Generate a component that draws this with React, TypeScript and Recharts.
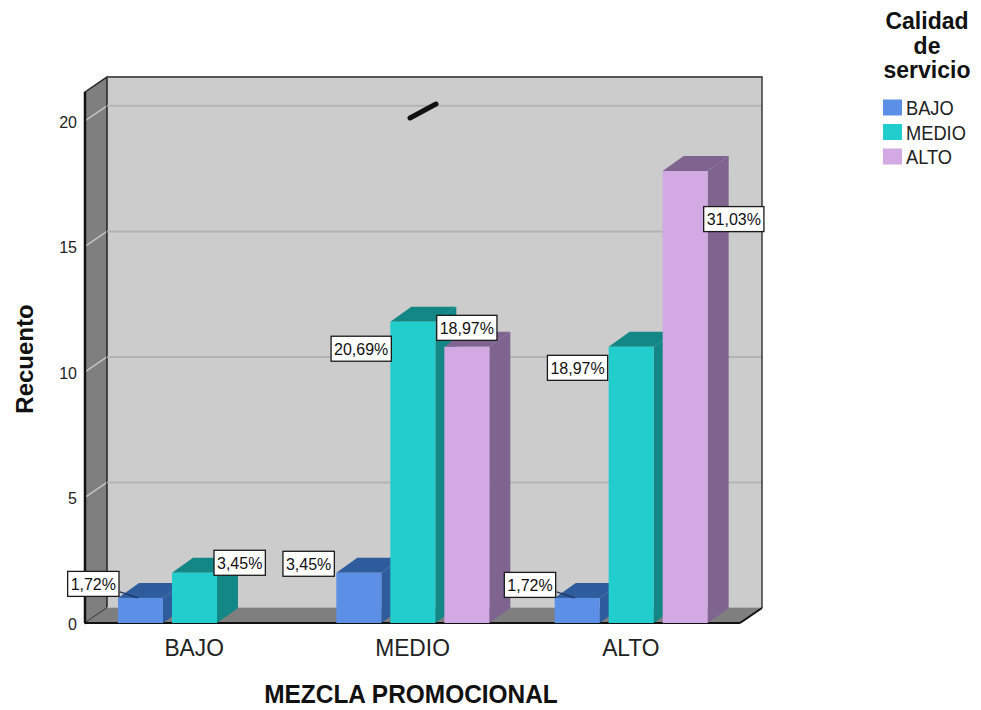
import React from 'react';
import { BarChart, Bar, XAxis, YAxis, CartesianGrid, LabelList } from 'recharts';

// Counts of "Calidad de servicio" within each level of "Mezcla promocional"
const categories = ['BAJO', 'MEDIO', 'ALTO'];
const bajoCounts = [1, 2, 1];
const medioCounts = [2, 12, 11];
const altoCounts = [0, 11, 18];
const legendLabels = ['BAJO', 'MEDIO', 'ALTO'];
const yTicks = [0, 5, 10, 15, 20];
const gridTicks = [5, 10, 15, 20];

const total = [...bajoCounts, ...medioCounts, ...altoCounts].reduce((a, b) => a + b, 0);

const data = categories.map((category, i) => ({
  category,
  bajo: bajoCounts[i],
  medio: medioCounts[i],
  alto: altoCounts[i],
}));

// Layout
const W = 981;
const H = 710;
const PLOT_LEFT = 85;
const PLOT_RIGHT = 740;
const PLOT_TOP = 92;
const PLOT_BOTTOM = 623;
const WALL_DX = 22;
const WALL_DY = 15;
const BAR_DX = 21;
const BAR_DY = 15;
const Y_MAX = 21.15;
const Y_AXIS_W = 60;
const X_AXIS_H = 40;
const BAR_SIZE = 45;
const BAR_GAP = 9;
const BAND_W = (PLOT_RIGHT - PLOT_LEFT) / categories.length;

const FONT = '"Liberation Sans", Arial, Helvetica, sans-serif';

const SERIES = [
  { key: 'bajo', front: '#5B90E6', dark: '#2E5C9C' },
  { key: 'medio', front: '#22CDCD', dark: '#138786' },
  { key: 'alto', front: '#D2A9E3', dark: '#7F6490' },
];

type Placement = { side: 'left' | 'right' | 'center'; gap: number; dy: number; leader?: boolean };

// Where each percentage box sits relative to its bar (indexed by category)
const LABEL_PLACEMENT: Record<string, (Placement | null)[]> = {
  bajo: [
    { side: 'left', gap: -1, dy: -14, leader: true },
    { side: 'left', gap: 2, dy: -9 },
    { side: 'left', gap: -1, dy: -13, leader: true },
  ],
  medio: [
    { side: 'right', gap: -3, dy: -10 },
    { side: 'left', gap: -1, dy: 27 },
    { side: 'left', gap: 1, dy: 21 },
  ],
  alto: [
    null,
    { side: 'center', gap: 0, dy: -19 },
    { side: 'right', gap: -4, dy: 48 },
  ],
};

const CHAR_W: Record<string, number> = {
  '0': 0.556, '1': 0.556, '2': 0.556, '3': 0.556, '4': 0.556,
  '5': 0.556, '6': 0.556, '7': 0.556, '8': 0.556, '9': 0.556,
  ',': 0.278, '%': 0.889,
};
const textWidth = (s: string, size: number) =>
  s.split('').reduce((acc, ch) => acc + (CHAR_W[ch] ?? 0.556), 0) * size;

const pctText = (v: number) => ((v / total) * 100).toFixed(2).replace('.', ',') + '%';

const yFront = (v: number) => PLOT_BOTTOM - (v / Y_MAX) * (PLOT_BOTTOM - PLOT_TOP);

const SText = (props: any) => {
  const { x, y, sx = 1, children, ...rest } = props;
  return (
    <text transform={`translate(${x},${y}) scale(${sx},1)`} fontFamily={FONT} {...rest}>
      {children}
    </text>
  );
};

const make3DShape = (front: string, dark: string) => (props: any) => {
  const { x, y, width, height } = props;
  if (!height || height <= 0) return <g />;
  const r = x + width;
  const b = y + height;
  return (
    <g>
      <polygon
        points={`${r},${y} ${r + BAR_DX},${y - BAR_DY} ${r + BAR_DX},${b - BAR_DY} ${r},${b}`}
        fill={dark}
      />
      <polygon
        points={`${x},${y} ${x + BAR_DX},${y - BAR_DY} ${r + BAR_DX},${y - BAR_DY} ${r},${y}`}
        fill={dark}
      />
      <rect x={x} y={y} width={width} height={height} fill={front} />
    </g>
  );
};

const makeLabel = (seriesKey: string) => (props: any) => {
  const { x, y, width, value } = props;
  if (!value) return null;
  const cat = Math.max(0, Math.min(categories.length - 1, Math.floor((x + width / 2 - PLOT_LEFT) / BAND_W)));
  const place = LABEL_PLACEMENT[seriesKey][cat];
  if (!place) return null;
  const txt = pctText(Number(value));
  const fs = 16;
  const bw = textWidth(txt, fs) + 6;
  const bh = 25;
  let left: number;
  if (place.side === 'left') left = x - place.gap - bw;
  else if (place.side === 'right') left = x + width + place.gap;
  else left = x + width / 2 - bw / 2;
  const cy = y + place.dy;
  return (
    <g>
      {place.leader && (
        <line x1={x + 2} y1={y - 6} x2={x + 20} y2={y} stroke="#1d3560" strokeWidth={1.5} />
      )}
      <rect x={left} y={cy - bh / 2} width={bw} height={bh} fill="#ffffff" stroke="#1a1a1a" strokeWidth={1.3} />
      <text x={left + bw / 2} y={cy + 6} textAnchor="middle" fontSize={fs} fontFamily={FONT} fill="#111">
        {txt}
      </text>
    </g>
  );
};

const XTick = (props: any) => {
  const { x, payload } = props;
  return (
    <SText x={x} y={656} sx={0.95} textAnchor="middle" fontSize={24} fill="#222">
      {payload.value}
    </SText>
  );
};

const YTick = (props: any) => {
  const { y, payload } = props;
  return (
    <text x={77} y={y + 7} textAnchor="end" fontSize={16} fontFamily={FONT} fill="#222">
      {payload.value}
    </text>
  );
};

const EmptyTick = () => <g />;

const layer: React.CSSProperties = { position: 'absolute', left: 0, top: 0, width: W, height: H };

function Backdrop() {
  const bl = PLOT_LEFT + WALL_DX;
  const br = PLOT_RIGHT + WALL_DX;
  const bt = PLOT_TOP - WALL_DY;
  const bb = PLOT_BOTTOM - WALL_DY;
  return (
    <svg width={W} height={H} style={layer}>
      {/* back wall */}
      <rect x={bl} y={bt} width={br - bl} height={bb - bt} fill="#cccccc" />
      {/* left wall */}
      <polygon
        points={`${PLOT_LEFT},${PLOT_TOP} ${bl},${bt} ${bl},${bb} ${PLOT_LEFT},${PLOT_BOTTOM}`}
        fill="#7f7f7f"
      />
      {gridTicks.map((t) => (
        <line
          key={t}
          x1={PLOT_LEFT}
          y1={yFront(t)}
          x2={bl}
          y2={yFront(t) - WALL_DY}
          stroke="#c4c4c4"
          strokeWidth={1.5}
        />
      ))}
      <polygon
        points={`${PLOT_LEFT},${PLOT_TOP} ${bl},${bt} ${bl},${bb} ${PLOT_LEFT},${PLOT_BOTTOM}`}
        fill="none"
        stroke="#222"
        strokeWidth={1.5}
      />
      <line x1={PLOT_LEFT} y1={PLOT_TOP} x2={PLOT_LEFT} y2={PLOT_BOTTOM} stroke="#111" strokeWidth={2.5} />

      {/* axis titles */}
      <text
        transform="translate(33,359) rotate(-90)"
        textAnchor="middle"
        fontSize={24}
        fontWeight="bold"
        fontFamily={FONT}
        fill="#111"
      >
        Recuento
      </text>
      <SText x={411} y={703} sx={0.94} textAnchor="middle" fontSize={26} fontWeight="bold" fill="#111">
        MEZCLA PROMOCIONAL
      </SText>

      {/* legend */}
      {['Calidad', 'de', 'servicio'].map((line, i) => (
        <text
          key={line}
          x={927}
          y={29 + i * 24.5}
          textAnchor="middle"
          fontSize={23}
          fontWeight="bold"
          fontFamily={FONT}
          fill="#111"
        >
          {line}
        </text>
      ))}
      {legendLabels.map((lab, i) => (
        <g key={lab}>
          <rect x={883} y={99.5 + i * 24.5} width={19} height={16} fill={SERIES[i].front} />
          <SText x={906} y={115 + i * 24.5} sx={0.87} fontSize={21} fill="#222">
            {lab}
          </SText>
        </g>
      ))}
    </svg>
  );
}

// Same geometry as the bar chart, shifted back by the wall depth so the
// horizontal grid lands on the back wall.
function BackGrid() {
  return (
    <div style={{ ...layer, left: WALL_DX, top: -WALL_DY }}>
      <BarChart
        width={W}
        height={H}
        data={data}
        barGap={BAR_GAP}
        margin={{
          top: PLOT_TOP,
          right: W - PLOT_RIGHT,
          bottom: H - PLOT_BOTTOM - X_AXIS_H,
          left: PLOT_LEFT - Y_AXIS_W,
        }}
      >
        <XAxis dataKey="category" height={X_AXIS_H} axisLine={false} tickLine={false} tick={<EmptyTick />} />
        <YAxis
          type="number"
          width={Y_AXIS_W}
          domain={[0, Y_MAX]}
          ticks={gridTicks}
          axisLine={false}
          tickLine={false}
          tick={<EmptyTick />}
        />
        <CartesianGrid vertical={false} horizontal stroke="#b3b3b3" strokeWidth={2} />
        {SERIES.map((s) => (
          <Bar key={s.key} dataKey={s.key} barSize={BAR_SIZE} isAnimationActive={false} fillOpacity={0} />
        ))}
      </BarChart>
    </div>
  );
}

function Floor() {
  const bl = PLOT_LEFT + WALL_DX;
  const br = PLOT_RIGHT + WALL_DX;
  const bt = PLOT_TOP - WALL_DY;
  const bb = PLOT_BOTTOM - WALL_DY;
  return (
    <svg width={W} height={H} style={layer}>
      {/* back wall outline */}
      <polyline points={`${bl},${bt} ${br},${bt} ${br},${bb}`} fill="none" stroke="#3a3a3a" strokeWidth={1.5} />
      <polygon
        points={`${PLOT_LEFT},${PLOT_BOTTOM} ${PLOT_RIGHT},${PLOT_BOTTOM} ${br},${bb} ${bl},${bb}`}
        fill="#7f7f7f"
      />
      <line x1={PLOT_LEFT} y1={PLOT_BOTTOM} x2={PLOT_RIGHT} y2={PLOT_BOTTOM} stroke="#111" strokeWidth={2} />
      <line x1={PLOT_RIGHT} y1={PLOT_BOTTOM} x2={br} y2={bb} stroke="#111" strokeWidth={2} />
      {/* small stray stroke on the back wall */}
      <line x1={410} y1={118} x2={436} y2={104} stroke="#111" strokeWidth={5} strokeLinecap="round" />
    </svg>
  );
}

function MainBars() {
  return (
    <div style={layer}>
      <BarChart
        width={W}
        height={H}
        data={data}
        barGap={BAR_GAP}
        margin={{
          top: PLOT_TOP,
          right: W - PLOT_RIGHT,
          bottom: H - PLOT_BOTTOM - X_AXIS_H,
          left: PLOT_LEFT - Y_AXIS_W,
        }}
      >
        <XAxis dataKey="category" height={X_AXIS_H} axisLine={false} tickLine={false} tick={<XTick />} interval={0} />
        <YAxis
          type="number"
          width={Y_AXIS_W}
          domain={[0, Y_MAX]}
          ticks={yTicks}
          axisLine={false}
          tickLine={false}
          tick={<YTick />}
        />
        {SERIES.map((s) => (
          <Bar
            key={s.key}
            dataKey={s.key}
            barSize={BAR_SIZE}
            isAnimationActive={false}
            shape={make3DShape(s.front, s.dark)}
          />
        ))}
      </BarChart>
    </div>
  );
}

function LabelOverlay() {
  return (
    <div style={layer}>
      <BarChart
        width={W}
        height={H}
        data={data}
        barGap={BAR_GAP}
        margin={{
          top: PLOT_TOP,
          right: W - PLOT_RIGHT,
          bottom: H - PLOT_BOTTOM,
          left: PLOT_LEFT,
        }}
      >
        <XAxis dataKey="category" hide />
        <YAxis type="number" hide domain={[0, Y_MAX]} ticks={yTicks} />
        {SERIES.map((s) => (
          <Bar key={s.key} dataKey={s.key} barSize={BAR_SIZE} isAnimationActive={false} fillOpacity={0}>
            <LabelList dataKey={s.key} content={makeLabel(s.key)} />
          </Bar>
        ))}
      </BarChart>
    </div>
  );
}

export default function App() {
  return (
    <div style={{ position: 'absolute', left: 0, top: 0, width: W, height: H, background: '#ffffff', overflow: 'hidden' }}>
      <Backdrop />
      <BackGrid />
      <Floor />
      <MainBars />
      <LabelOverlay />
    </div>
  );
}
